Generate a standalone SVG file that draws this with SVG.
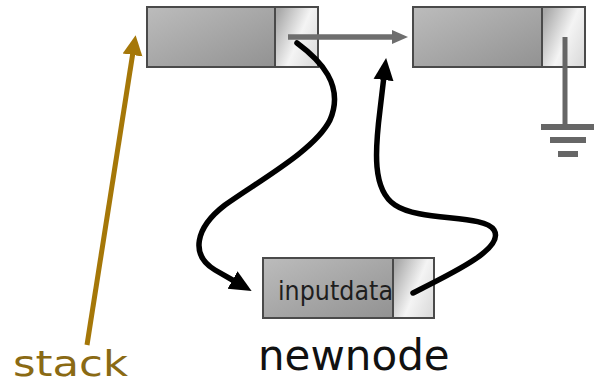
<svg xmlns="http://www.w3.org/2000/svg" width="601" height="385" viewBox="0 0 601 385">
<style>
  .data{fill:url(#gData);stroke:#4a4a4a;stroke-width:2}
  .ptr{fill:url(#gPtr);stroke:#4a4a4a;stroke-width:2}
  .blk{fill:none;stroke:#000;stroke-width:5.5;stroke-linecap:round}
  .gry{fill:none;stroke:#6e6e6e;stroke-width:5.5}
  .stk{fill:none;stroke:#a57708;stroke-width:5}
  .lbl{font-family:"DejaVu Sans","Liberation Sans",sans-serif}
</style>
<defs>
  <linearGradient id="gData" x1="0" y1="0" x2="1" y2="1">
    <stop offset="0" stop-color="#bcbcbc"/>
    <stop offset="1" stop-color="#929292"/>
  </linearGradient>
  <linearGradient id="gPtr" x1="0" y1="0.2" x2="1" y2="0.8">
    <stop offset="0" stop-color="#a8a8a8"/>
    <stop offset="0.55" stop-color="#f4f4f4"/>
    <stop offset="1" stop-color="#dcdcdc"/>
  </linearGradient>
  <marker id="aBlk" markerUnits="userSpaceOnUse" markerWidth="24" markerHeight="24" refX="4" refY="10" orient="auto" viewBox="0 0 24 20">
    <path d="M0,0 L22,10 L0,20 Z" fill="#000"/>
  </marker>
  <marker id="aGry" markerUnits="userSpaceOnUse" markerWidth="18" markerHeight="16" refX="2" refY="8" orient="auto" viewBox="0 0 18 16">
    <path d="M0,1 L16,8 L0,15 Z" fill="#6e6e6e"/>
  </marker>
  <marker id="aStk" markerUnits="userSpaceOnUse" markerWidth="22" markerHeight="22" refX="3" refY="10" orient="auto" viewBox="0 0 22 20">
    <path d="M0,0 L20,10 L0,20 Z" fill="#a57708"/>
  </marker>
</defs>

<g id="node1">
  <rect class="data" x="147" y="7" width="128" height="60"/>
  <rect class="ptr" x="275" y="7" width="43" height="60"/>
</g>
<g id="node2">
  <rect class="data" x="413" y="7" width="129" height="60"/>
  <rect class="ptr" x="542" y="7" width="43" height="60"/>
</g>
<g id="ground">
  <line x1="565" y1="37" x2="565" y2="127" stroke="#666" stroke-width="5"/>
  <rect x="541" y="124" width="53" height="6" fill="#666"/>
  <rect x="550" y="137" width="36" height="6" fill="#666"/>
  <rect x="558" y="151" width="20" height="6" fill="#666"/>
</g>
<g id="newnode">
  <rect class="data" x="263" y="258" width="130" height="60"/>
  <rect class="ptr" x="393" y="258" width="41" height="60"/>
  <text class="lbl" x="278" y="300" font-size="27" fill="#1e1e1e" textLength="115" lengthAdjust="spacingAndGlyphs">inputdata</text>
  <text class="lbl" x="258" y="370" font-size="42" fill="#111">newnode</text>
</g>
<g id="stack">
  <text class="lbl" x="13" y="376" font-size="35" fill="#8a6a14" textLength="115" lengthAdjust="spacingAndGlyphs">stack</text>
</g>

<g id="connectors">
  <line class="gry" x1="288" y1="37" x2="394" y2="37" marker-end="url(#aGry)"/>
  <line class="stk" x1="87" y1="345" x2="133" y2="52" marker-end="url(#aStk)"/>
  <path class="blk" d="M297,43 C320,60 345,85 330,120 C315,150 260,180 225,205 C195,228 190,255 215,270 L236,282" marker-end="url(#aBlk)"/>
  <path class="blk" d="M413,293 C455,272 505,248 494,230 C484,214 420,222 395,205 C372,190 375,150 380,110 L384,76" marker-end="url(#aBlk)"/>
</g>
</svg>
